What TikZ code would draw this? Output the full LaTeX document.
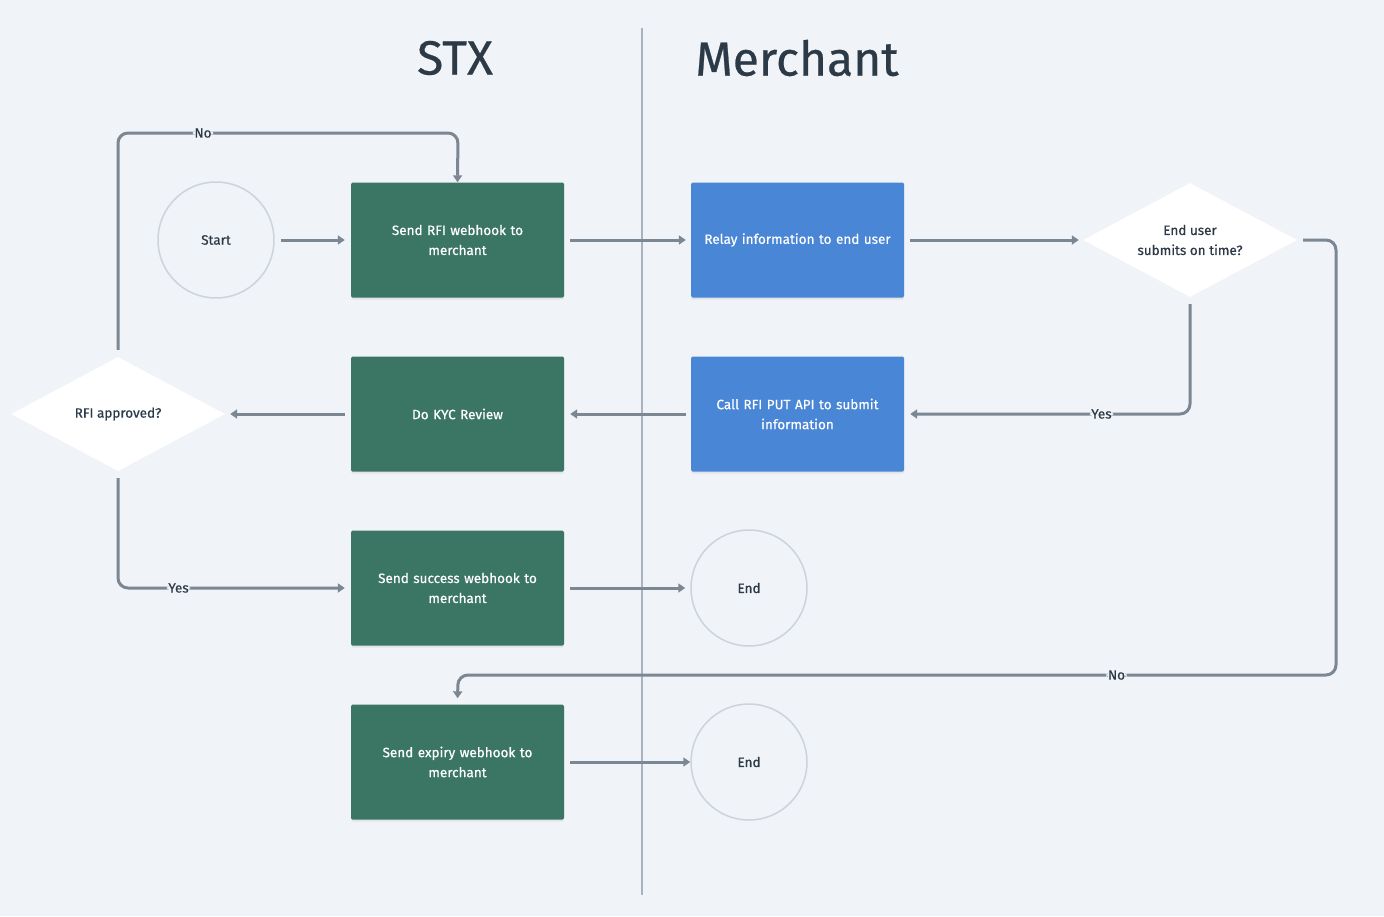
\documentclass[tikz,border=0pt]{standalone}
\usepackage{fontspec}
\setmainfont{Fira Sans}
\newfontfamily\boxfont{Fira Sans}[FakeBold=0.5]
\usepackage{tikz}
\usetikzlibrary{arrows.meta,shapes.geometric,shadows}

\definecolor{bgcol}{HTML}{F0F3F7}
\definecolor{stxgreen}{HTML}{3B7665}
\definecolor{merblue}{HTML}{4A86D6}
\definecolor{flowgray}{HTML}{7C8794}
\definecolor{ringgray}{HTML}{CDD3DB}
\definecolor{divgray}{HTML}{A9B2BE}
\definecolor{inkcol}{HTML}{2C3A47}

\tikzset{
  stepgreen/.style={fill=stxgreen, text=white, minimum width=213pt, minimum height=115pt,
    text width=200pt, align=center, rounded corners=1.5pt, font=\boxfont\fontsize{13.5}{20}\selectfont,
    drop shadow={opacity=0.12, shadow xshift=0pt, shadow yshift=-2pt}},
  stepblue/.style={stepgreen, fill=merblue},
  ring/.style={circle, draw=ringgray, line width=1.5pt, minimum size=116pt, text=inkcol,
    font=\boxfont\fontsize{13.5}{20}\selectfont},
  choice/.style={diamond, fill=white, aspect=1.88, minimum width=214pt, minimum height=114pt,
    inner sep=0pt, text=inkcol, align=center, font=\boxfont\fontsize{13.5}{20}\selectfont},
  flow/.style={draw=flowgray, line width=3pt, rounded corners=10pt,
    -{Triangle[length=7pt,width=9pt]}},
  lbl/.style={fill=bgcol, inner sep=1.5pt, text=inkcol, font=\boxfont\fontsize{13.5}{14}\selectfont},
}

\begin{document}
\begin{tikzpicture}[x=1pt,y=-1pt]
  \fill[bgcol] (0,0) rectangle (1384,916);
  \useasboundingbox (0,0) rectangle (1384,916);

  \draw[divgray, line width=1.5pt] (642,28) -- (642,895);
  \node[text=inkcol, font=\boxfont\fontsize{48}{48}\selectfont] (stx) at (455,58) {STX};
  \node[text=inkcol, font=\boxfont\fontsize{48}{48}\selectfont] (merchant) at (797,58) {Merchant};

  \node[ring] (start) at (216,240) {Start};
  \node[stepgreen] (sendrfi) at (457.5,240) {Send RFI webhook to\\merchant};
  \node[stepblue] (relay) at (797.5,240) {Relay information to end user};
  \node[choice] (ontime) at (1190,240) {End user\\submits on time?};
  \node[stepgreen] (kyc) at (457.5,414) {Do KYC Review};
  \node[stepblue] (callput) at (797.5,414) {Call RFI PUT API to submit\\information};
  \node[choice] (approved) at (118,414) {RFI approved?};
  \node[stepgreen] (success) at (457.5,588) {Send success webhook to\\merchant};
  \node[ring] (endA) at (749,588) {End};
  \node[stepgreen] (expiry) at (457.5,762) {Send expiry webhook to\\merchant};
  \node[ring] (endB) at (749,762) {End};

  \draw[flow, shorten <=6pt, shorten >=6pt] (start) -- (sendrfi);
  \draw[flow, shorten <=6pt, shorten >=5pt] (sendrfi) -- (relay);
  \draw[flow, shorten <=6pt, shorten >=4pt] (relay) -- (ontime);
  \draw[flow, shorten <=6pt, shorten >=6pt] (ontime.east) -- (1336,240) -- (1336,675)
    -- node[lbl, pos=0.25]{No} (458,675) -- (expiry.north);
  \draw[flow, shorten <=7pt, shorten >=6pt] (ontime.south) -- (1190,414)
    -- node[lbl, pos=0.31]{Yes} (callput.east);
  \draw[flow, shorten <=5pt, shorten >=6pt] (callput) -- (kyc);
  \draw[flow, shorten <=6pt, shorten >=5pt] (kyc) -- (approved);
  \draw[flow, shorten <=7pt, shorten >=0pt] (approved.north) -- (118,133)
    -- node[lbl, pos=0.25]{No} (458,133) -- (sendrfi.north);
  \draw[flow, shorten <=7pt, shorten >=6pt] (approved.south) -- (118,588)
    -- node[lbl, pos=0.26]{Yes} (success.west);
  \draw[flow, shorten <=6pt, shorten >=5pt] (success) -- (endA);
  \draw[flow, shorten <=6pt, shorten >=0pt] (expiry) -- (endB);
\end{tikzpicture}
\end{document}
